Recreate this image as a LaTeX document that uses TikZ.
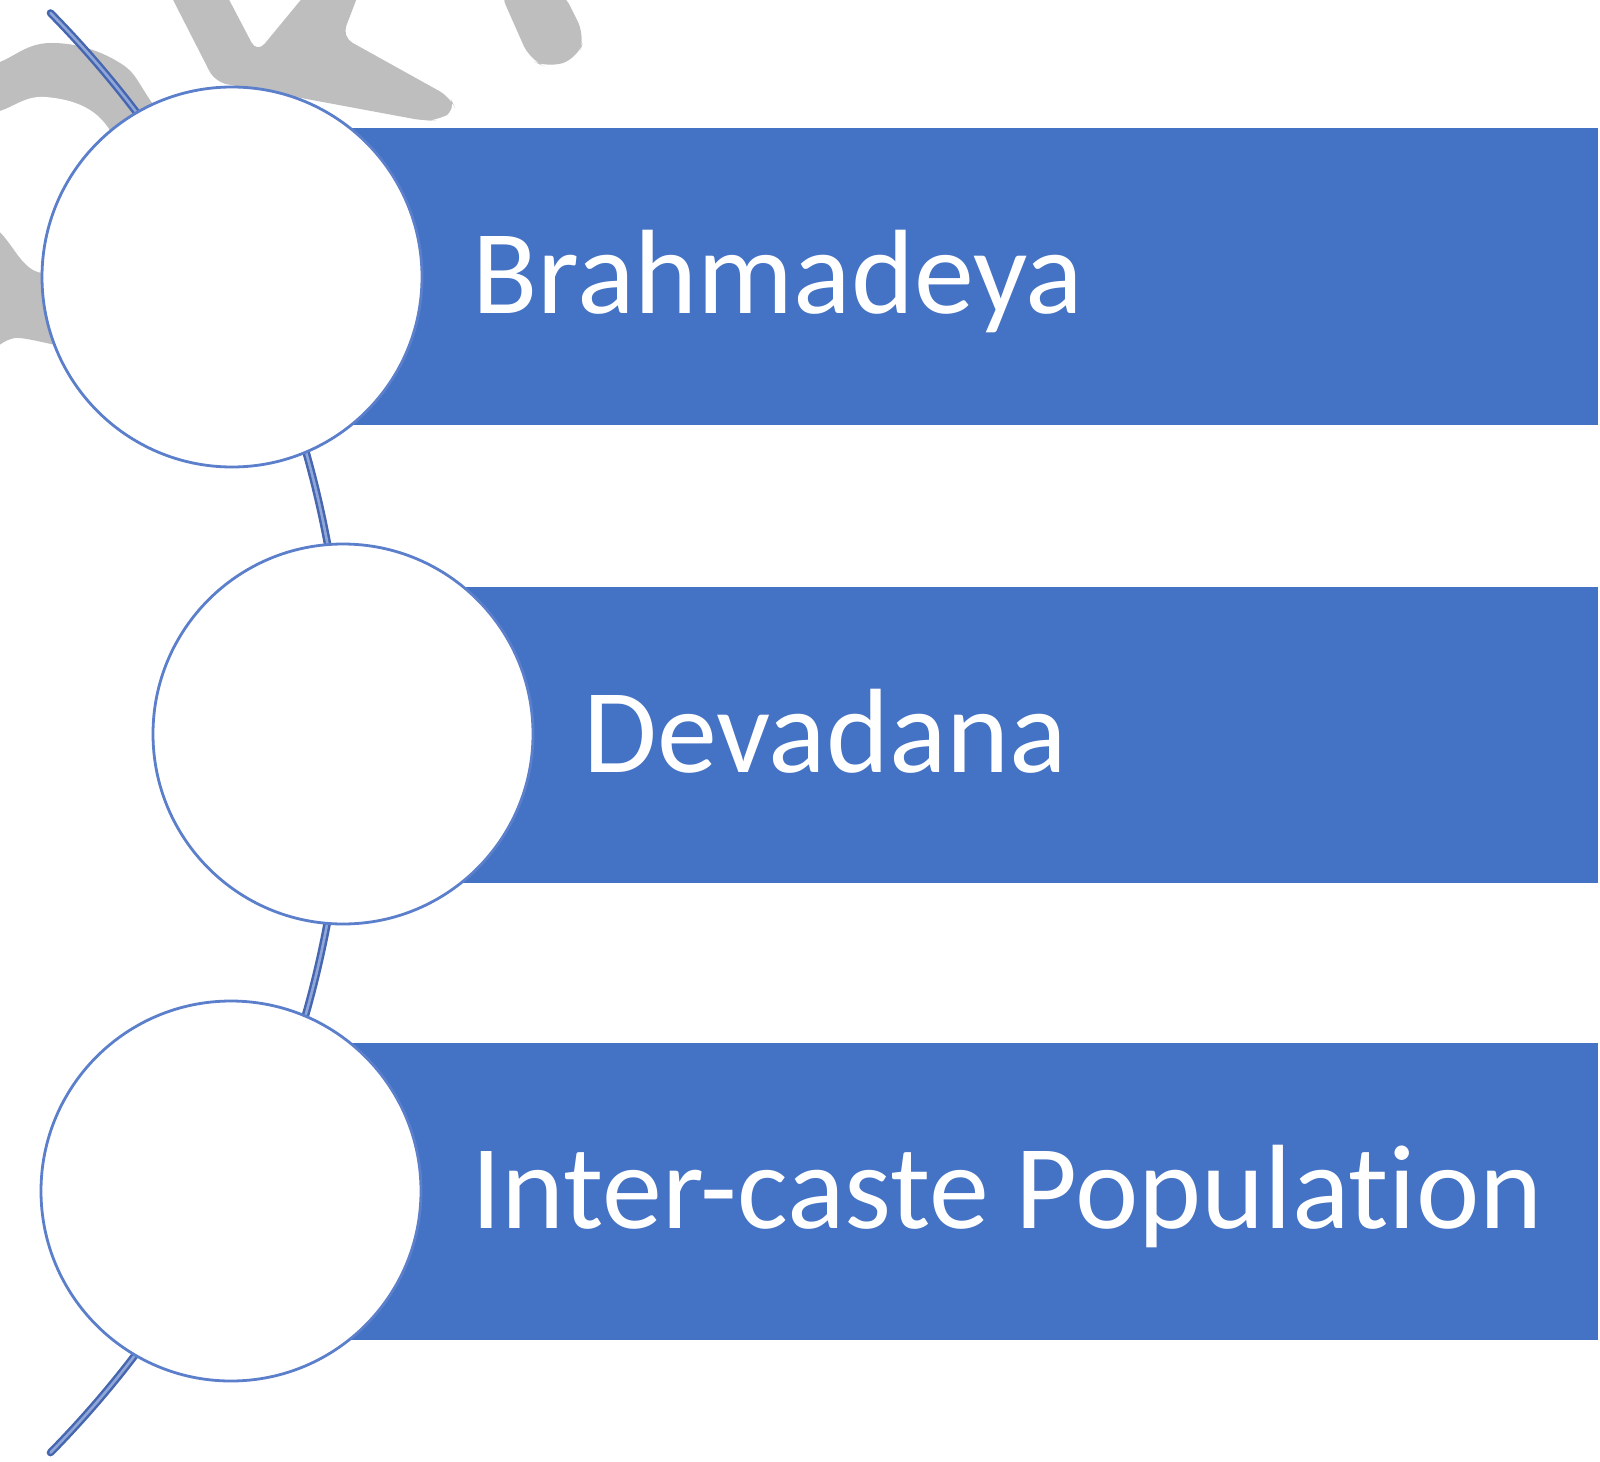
\documentclass[tikz,border=0pt]{standalone}
\usepackage{fontspec}
\setmainfont{Carlito}[Ligatures={NoCommon,NoRare}]
\definecolor{barblue}{HTML}{4472C4}
\definecolor{ringblue}{HTML}{5B7FCB}
\definecolor{linkblue}{HTML}{4666B0}
\definecolor{linklight}{HTML}{8EA6D8}
\definecolor{wmgray}{HTML}{BEBEBE}
\begin{document}
\begin{tikzpicture}[x=0.5pt,y=-0.5pt,
  bar/.style={fill=barblue, draw=none, rectangle, inner sep=0pt, anchor=north west},
  disc/.style={circle, fill=white, draw=ringblue, line width=1.4pt, minimum size=190pt, inner sep=0pt},
  bartext/.style={text=white, font=\fontsize{60pt}{62pt}\selectfont, anchor=base west, inner sep=0pt},
  wm/.style={fill=wmgray, draw=none},
  link/.style={draw=linkblue, line width=1.25pt, double=linklight, double distance=1.3pt, line cap=round}]
\useasboundingbox (0,0) rectangle (1600,1461);
\clip (0,0) rectangle (1600,1461);
\fill[white] (0,0) rectangle (1600,1461);
% watermark
\fill[wm] plot[smooth cycle, tension=0.7] coordinates {(-30,75) (0,62) (50,43) (115,60) (150,100) (200,190) (175,300) (100,345) (20,338) (-30,330)};
\fill[white] plot[smooth cycle, tension=0.7] coordinates {(-30,120) (0,111) (45,97) (100,118) (118,170) (100,240) (43,273) (0,232) (-30,200)};
\fill[wm, rounded corners=6pt] (168,-10) -- (224,-10) -- (257,53) -- (309,-10) -- (360,-10) -- (342,37) -- (450,97) -- (456,110) -- (438,120) -- (425,121) -- (215,82) -- cycle;
\fill[wm, rounded corners=8pt] (499,-10) -- (562,-10) -- (585,36) -- (578,58) -- (548,68) -- (530,60) -- cycle;
% connecting arc
\coordinate (atop) at (50.5,13);
\draw[link] (atop) arc[start angle=-44.5, end angle=44.5, radius=1027] coordinate (abot);
% bars
\node[bar, minimum width=683pt, minimum height=148.5pt] (b1) at (232,128) {};
\node[bar, minimum width=627.5pt, minimum height=148pt] (b2) at (343,587) {};
\node[bar, minimum width=683.5pt, minimum height=148.5pt] (b3) at (231,1043) {};
% circles
\node[disc] (c1) at (232,277) {};
\node[disc] (c2) at (343,734) {};
\node[disc] (c3) at (231,1191) {};
% texts
\node[bartext] (t1) at (472,313) {Brahmadeya};
\node[bartext] (t2) at (583,772) {Devadana};
\node[bartext] (t3) at (471,1228) {Inter-caste Population};
\end{tikzpicture}
\end{document}
